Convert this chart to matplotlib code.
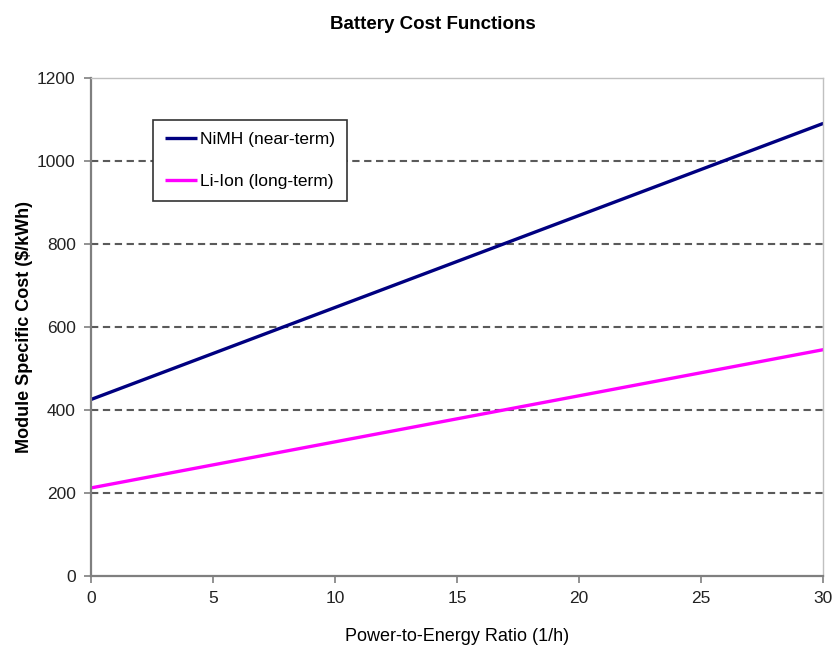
import matplotlib
matplotlib.use("Agg")
import matplotlib.pyplot as plt

# Power-to-energy ratio (1/h) and module specific cost ($/kWh)
ratio = [0, 30]
nimh_cost = [425, 1090]
liion_cost = [212, 545]

plt.rcParams['font.family'] = ['Liberation Sans', 'DejaVu Sans']

fig = plt.figure(figsize=(8.35, 6.53), dpi=100)
ax = fig.add_axes([0.109, 0.118, 0.877, 0.763])

ax.plot(ratio, nimh_cost, color='#000080', linewidth=2.4, label='NiMH (near-term)',
        solid_capstyle='butt')
ax.plot(ratio, liion_cost, color='#ff00ff', linewidth=2.4, label='Li-Ion (long-term)',
        solid_capstyle='butt')

ax.set_xlim(0, 30)
ax.set_ylim(0, 1200)
ax.set_xticks(range(0, 31, 5))
ax.set_yticks(range(0, 1201, 200))

# dashed gridlines only inside the plot
for y in range(200, 1200, 200):
    ax.axhline(y, color='#5a5a5a', linestyle=(0, (3.5, 2.2)), linewidth=1.5, zorder=0)

for side in ['left', 'bottom']:
    ax.spines[side].set_color('#7f7f7f')
    ax.spines[side].set_linewidth(1.6)
for side in ['top', 'right']:
    ax.spines[side].set_color('#c0c0c0')
    ax.spines[side].set_linewidth(1.0)

ax.tick_params(axis='both', labelsize=12.5, length=5, width=1.2,
               direction='out', pad=6, colors='#7f7f7f', labelcolor='#222222')

ax.set_xlabel('Power-to-Energy Ratio (1/h)', fontsize=13, labelpad=16)
ax.set_ylabel('Module Specific Cost ($/kWh)', fontsize=13, fontweight='bold', labelpad=3)

fig.text(0.518, 0.963, 'Battery Cost Functions', ha='center', va='center',
         fontsize=13.5, fontweight='bold')

leg = ax.legend(loc='upper left', bbox_to_anchor=(0.085, 0.916), borderaxespad=0,
                fontsize=12.5, fancybox=False, framealpha=1, edgecolor='#333333',
                handlelength=1.8, handletextpad=0.2, labelspacing=1.55,
                borderpad=0.7)
leg.get_frame().set_linewidth(1.2)

fig.savefig('out.png', dpi=100)
